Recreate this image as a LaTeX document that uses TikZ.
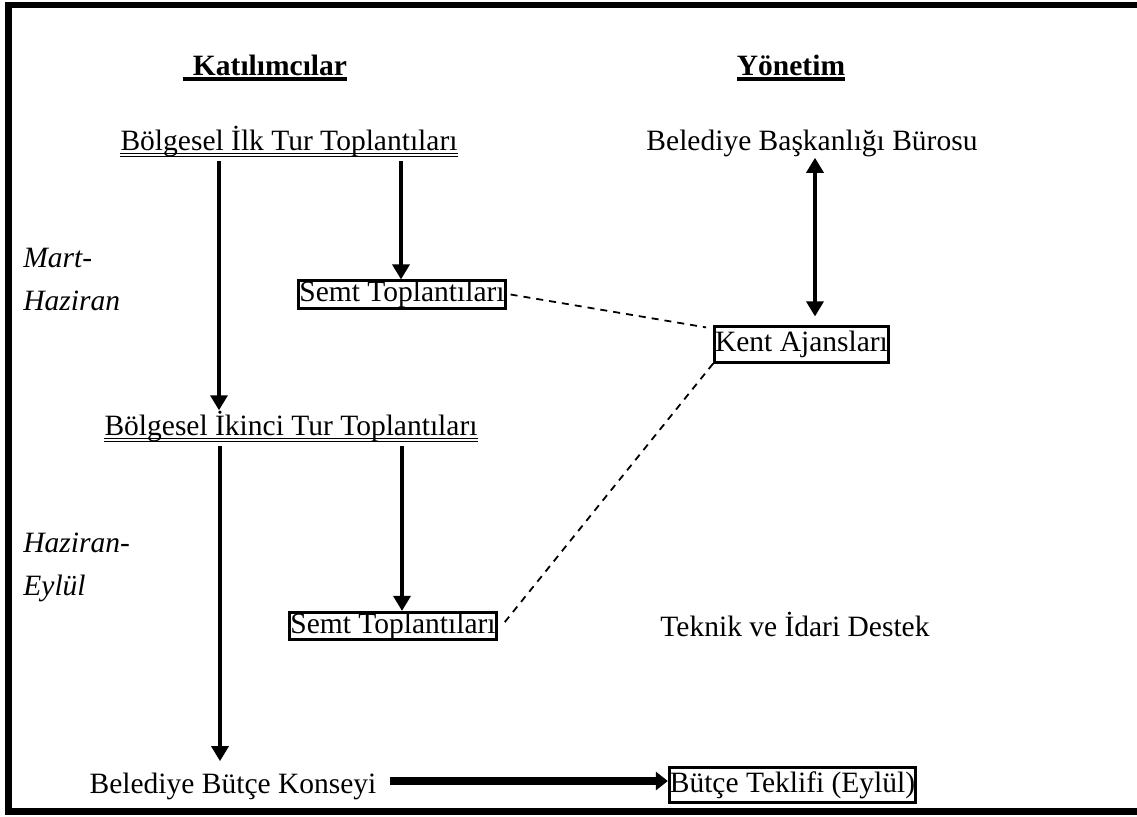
\documentclass[tikz,border=0pt]{standalone}
\usepackage{fontspec}
\setmainfont{Liberation Serif}
\usetikzlibrary{arrows.meta,calc}
\begin{document}
\begin{tikzpicture}[x=0.5pt,y=-0.5pt,
  txt/.style={inner sep=0pt,anchor=base,font=\fontsize{14.75}{17}\selectfont},
  hdr/.style={inner sep=0pt,anchor=base,font=\fontsize{14.75}{17}\selectfont\bfseries},
  itl/.style={inner sep=0pt,anchor=base west,font=\fontsize{14.75}{17}\selectfont\itshape},
  boxed/.style={draw,line width=1.4pt,inner xsep=0.3pt,inner ysep=0pt,text height=10.4pt,text depth=3.3pt,font=\fontsize{14.75}{17}\selectfont},
  arr/.style={line width=1.7pt,-{Triangle[length=7.5pt,width=8.5pt]}},
  darr/.style={line width=1.7pt,{Triangle[length=7.5pt,width=8.5pt]}-{Triangle[length=7.5pt,width=8.5pt]}},
  bigarr/.style={line width=4pt,-{Triangle[length=6pt,width=9pt]}},
  dline/.style={line width=0.9pt,dash pattern=on 3.5pt off 3pt},
  hul/.style={line width=1.6pt},
  dul/.style={line width=0.65pt}]
\useasboundingbox (0,0) rectangle (1137,816);
% frame
\fill (5,2) rectangle (1137,7.5);
\fill (5,2) rectangle (11.5,815);
\fill (5,807.5) rectangle (1137,815);
% headers
\node[hdr] (hk) at (270,75) {Katılımcılar};
\node[hdr] (hy) at (791,75) {Yönetim};
\draw[hul] ($(hk.base west)+(-10,4)$) -- ($(hk.base east)+(0,4)$);
\draw[hul] ($(hy.base west)+(0,4)$) -- ($(hy.base east)+(0,4)$);
% participants
\node[txt] (b1) at (289,150) {Bölgesel İlk Tur Toplantıları};
\draw[dul] ($(b1.base west)+(0,3.3)$) -- ($(b1.base east)+(0,3.3)$);
\draw[dul] ($(b1.base west)+(0,6.8)$) -- ($(b1.base east)+(0,6.8)$);
\node[txt] (b2) at (291,435) {Bölgesel İkinci Tur Toplantıları};
\draw[dul] ($(b2.base west)+(0,3.3)$) -- ($(b2.base east)+(0,3.3)$);
\draw[dul] ($(b2.base west)+(0,6.8)$) -- ($(b2.base east)+(0,6.8)$);
\node[boxed] (s1) at (402,294.5) {Semt Toplantıları};
\node[boxed] (s2) at (393,626) {Semt Toplantıları};
\node[txt] (bk) at (233,793) {Belediye Bütçe Konseyi};
% management
\node[txt] (bb) at (812,150) {Belediye Başkanlığı Bürosu};
\node[boxed,inner ysep=2pt] (k) at (801.5,344.5) {Kent Ajansları};
\node[txt] (td) at (795,636) {Teknik ve İdari Destek};
\node[boxed,inner ysep=2pt] (te) at (792.5,785) {Bütçe Teklifi (Eylül)};
% periods
\node[itl] (m1) at (23,267) {Mart-};
\node[itl] (m2) at (23,310) {Haziran};
\node[itl] (h1) at (23,552) {Haziran-};
\node[itl] (h2) at (23,595) {Eylül};
% helper columns
\coordinate (xa) at (219,0);
\coordinate (xb) at (401,0);
\coordinate (xc) at (220,0);
\coordinate (xd) at (402,0);
\coordinate (xe) at (815,0);
\coordinate (ya) at (0,781);
% arrows
\draw[arr] ([yshift=-2pt]b1.south -| xa) -- (b2.north -| xa);
\draw[arr] ([yshift=-2pt]b1.south -| xb) -- (s1.north -| xb);
\draw[arr] ([yshift=-2pt]b2.south -| xc) -- ([yshift=5.5pt]bk.north -| xc);
\draw[arr] ([yshift=-2pt]b2.south -| xd) -- (s2.north -| xd);
\draw[darr] ([yshift=-0.5pt]bb.south -| xe) -- ([yshift=4.5pt]k.north -| xe);
\draw[bigarr] ([xshift=6.5pt]bk.east |- ya) -- (te.west |- ya);
% dashed links
\draw[dline] ([xshift=2pt]s1.east) -- ([xshift=-3.5pt,yshift=-1pt]k.north west);
\draw[dline] (k.south west) -- ([xshift=2pt]s2.east);
\end{tikzpicture}
\end{document}
